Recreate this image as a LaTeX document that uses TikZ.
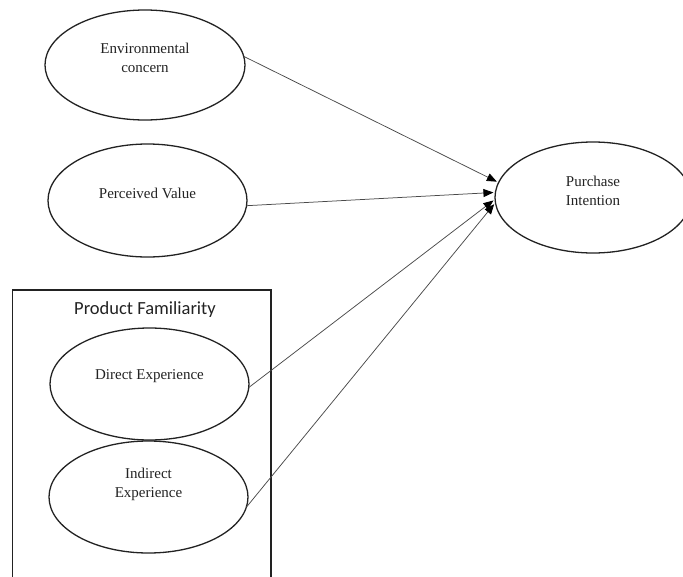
\documentclass[tikz,border=0pt]{standalone}
\usepackage{fontspec}
\setmainfont{Liberation Serif}
\newfontfamily\labelsans{Carlito}
\usetikzlibrary{arrows.meta,shapes.geometric}

\definecolor{ink}{HTML}{222222}
\definecolor{wire}{HTML}{4A4A4A}

\tikzset{
  construct/.style={draw=ink, line width=1.3pt, ellipse, inner sep=0pt, outer sep=0pt},
  caption/.style={text=ink, font=\fontsize{15}{19}\selectfont, align=center, inner sep=0pt},
  linkarrow/.style={draw=wire, line width=0.75pt, shorten >=2pt,
    -{Triangle[length=10pt,width=8pt,color=black]}},
  groupframe/.style={draw=ink, line width=1.3pt},
}

\begin{document}
\begin{tikzpicture}[x=1pt, y=-1pt]
  \useasboundingbox (0,0) rectangle (683,576);

  % latent constructs
  \node[construct, minimum width=200pt, minimum height=110pt] (env) at (145,65) {};
  \node[construct, minimum width=199pt, minimum height=113pt] (pv)  at (147.5,200.5) {};
  \node[construct, minimum width=199pt, minimum height=112pt] (dir) at (149.5,384) {};
  \node[construct, minimum width=199pt, minimum height=112pt] (ind) at (148.5,497) {};
  \node[construct, minimum width=196pt, minimum height=111pt] (pi)  at (593,197.5) {};

  % construct names
  \node[caption] (envtxt) at (145,58) {Environmental\\concern};
  \node[caption] (pvtxt)  at (147.5,193) {Perceived Value};
  \node[caption] (dirtxt) at (149.5,376) {Direct Experience};
  \node[caption] (indtxt) at (148.5,484) {Indirect\\Experience};
  \node[caption] (pitxt)  at (593,191) {Purchase\\Intention};

  % product familiarity group (open at the bottom)
  \draw[groupframe] (12.3,580) -- (12.3,290) -- (271,290) -- (271,580);
  \node[text=ink, font=\labelsans\fontsize{18.5}{22}\selectfont, inner sep=0pt] (pftxt) at (145,310) {Product Familiarity};

  % hypothesised paths
  \draw[linkarrow] (env.5)  -- (pi.171);
  \draw[linkarrow] (pv.-3)  -- (pi.177);
  \draw[linkarrow] (dir.-2) -- (pi.181);
  \draw[linkarrow] (ind.-6) -- (pi.183);
\end{tikzpicture}
\end{document}
